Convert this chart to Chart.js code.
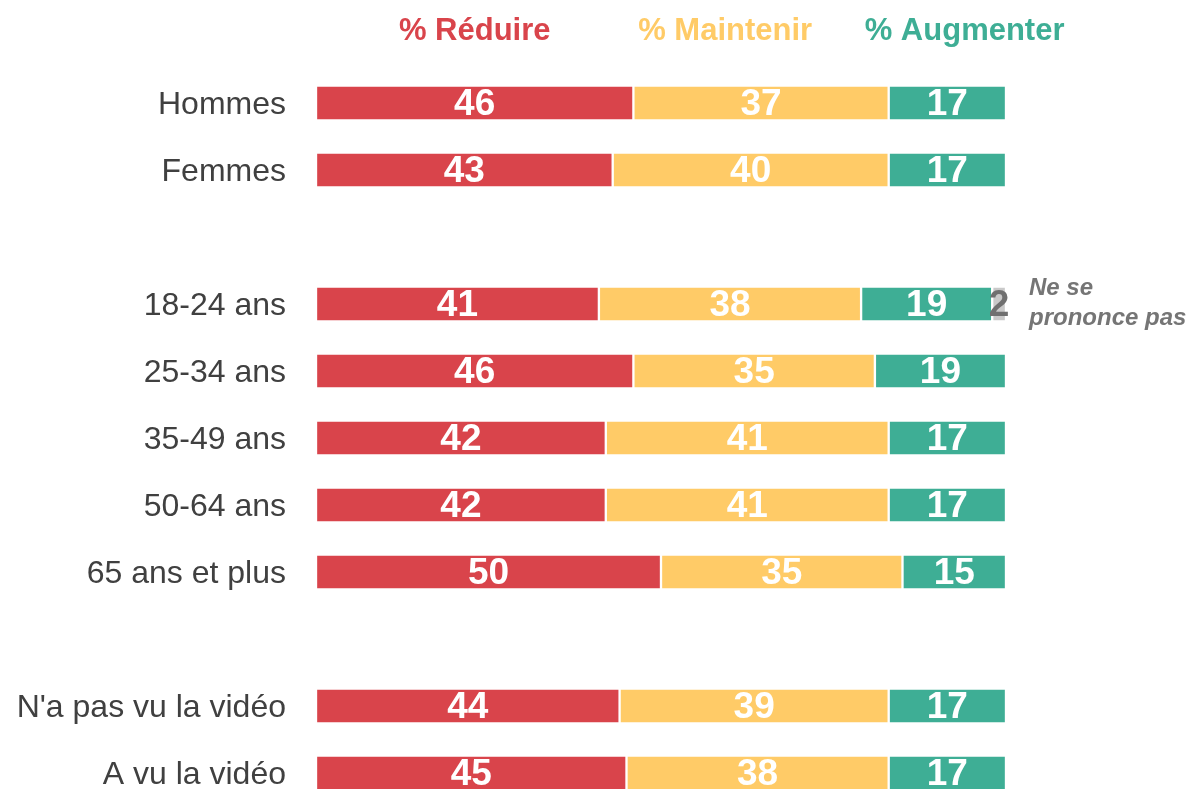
<!DOCTYPE html>
<html>
<head>
<meta charset="utf-8">
<script src="https://cdn.jsdelivr.net/npm/chart.js@4"></script>
<style>
    body { margin: 0; background: #fff; }
    #wrap { width: 1194px; height: 789px; }
</style>
</head>
<body>
<div id="wrap"><canvas id="opinionChart"></canvas></div>
<script>
// Data
let categories = ["Hommes", "Femmes", "", "18-24 ans", "25-34 ans", "35-49 ans",
    "50-64 ans", "65 ans et plus", "", "N'a pas vu la vidéo", "A vu la vidéo"];
let reduire    = [46, 43, null, 41, 46, 42, 42, 50, null, 44, 45];
let maintenir  = [37, 40, null, 38, 35, 41, 41, 35, null, 39, 38];
let augmenter  = [17, 17, null, 19, 19, 17, 17, 15, null, 17, 17];
let nspp       = [null, null, null, 2, null, null, null, null, null, null, null];
let seriesNames = ["% Réduire", "% Maintenir", "% Augmenter", "Ne se prononce pas"];

let colors = ["#D9444B", "#FFCB67", "#3EAE95", "#C9C9C9"];
let labelColors = ["#fff", "#fff", "#fff", "#707070"];
let font = "'Liberation Sans', Arial, sans-serif";

// value labels in the middle of each segment
let segmentLabels = {
    id: "segmentLabels",
    afterDatasetsDraw(chart) {
        let c = chart.ctx;
        c.save();
        c.textAlign = "center";
        c.textBaseline = "middle";
        c.font = "bold 37px " + font;
        chart.data.datasets.forEach((ds, i) => {
            chart.getDatasetMeta(i).data.forEach((bar, j) => {
                let v = ds.data[j];
                if (v == null) return;
                let p = bar.getCenterPoint();
                c.fillStyle = labelColors[i];
                c.fillText(v, p.x, p.y + 2);
            });
        });
        c.restore();
    }
};

// headers on top and the note on the right
let headers = {
    id: "headers",
    afterDraw(chart) {
        let c = chart.ctx;
        let x = chart.scales.x;
        c.save();
        c.textBaseline = "middle";
        c.textAlign = "center";
        c.font = "bold 31px " + font;
        [23, 59.3, 94].forEach((v, i) => {
            c.fillStyle = colors[i];
            c.fillText(seriesNames[i], x.getPixelForValue(v), 31);
        });

        // "Ne se prononce pas" next to the 18-24 bar
        let bar = chart.getDatasetMeta(3).data[3];
        c.textAlign = "left";
        c.font = "italic bold 24px " + font;
        c.fillStyle = "#757575";
        c.fillText("Ne se", bar.x + 23, bar.y - 16);
        c.fillText("prononce pas", bar.x + 23, bar.y + 14);
        c.restore();
    }
};

let ctx = document.getElementById("opinionChart").getContext("2d");
let chart = new Chart(ctx, {
    type: "bar",
    data: {
        labels: categories,
        datasets: [reduire, maintenir, augmenter, nspp].map((d, i) => ({
            label: seriesNames[i],
            data: d,
            backgroundColor: colors[i],
            borderColor: "#fff",
            borderWidth: 1.5,
            borderSkipped: false,
            barThickness: 35,
            clip: false
        }))
    },
    options: {
        indexAxis: "y",
        responsive: true,
        maintainAspectRatio: false,
        animation: false,
        layout: { padding: { top: 103, bottom: 16, right: 188, left: 0 } },
        plugins: {
            legend: { display: false },
            tooltip: { enabled: false }
        },
        scales: {
            x: {
                stacked: true,
                min: 0,
                max: 100,
                display: false
            },
            y: {
                stacked: true,
                offset: false,
                grid: { display: false, drawTicks: false },
                border: { display: false },
                afterFit(scale) {
                    scale.width = 316;
                    scale.paddingTop = 0;
                    scale.paddingBottom = 0;
                },
                ticks: {
                    padding: 30,
                    labelOffset: 2,
                    color: "#404040",
                    font: { family: font, size: 32 }
                }
            }
        }
    },
    plugins: [segmentLabels, headers]
});
</script>
</body>
</html>
